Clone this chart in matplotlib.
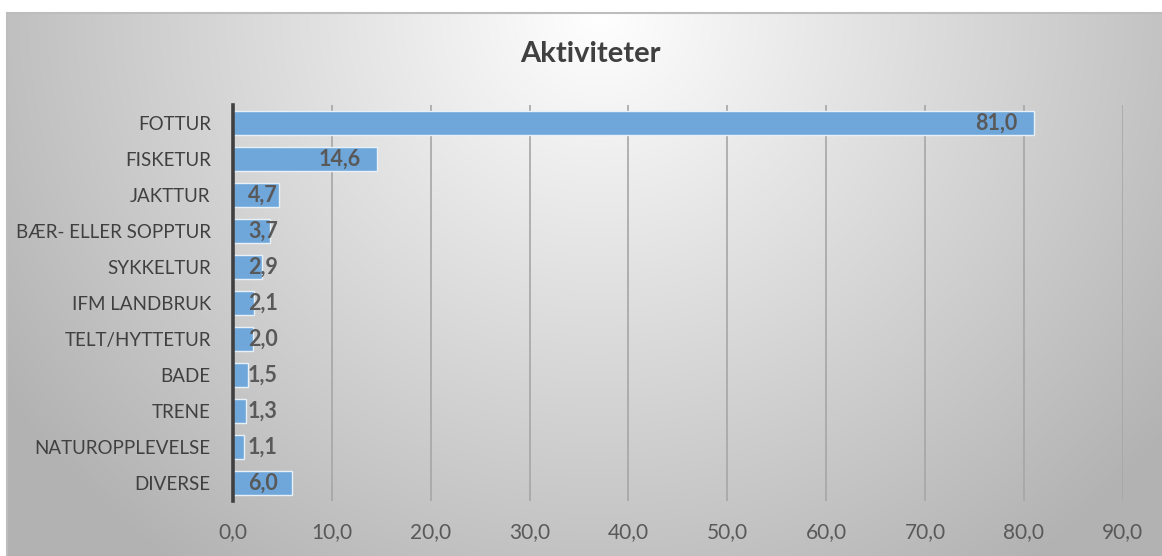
import numpy as np
import matplotlib
matplotlib.use("Agg")
import matplotlib.pyplot as plt
from matplotlib import transforms

categories = ["FOTTUR", "FISKETUR", "JAKTTUR", "BÆR- ELLER SOPPTUR", "SYKKELTUR",
              "IFM LANDBRUK", "TELT/HYTTETUR", "BADE", "TRENE", "NATUROPPLEVELSE", "DIVERSE"]
values = [81.0, 14.6, 4.7, 3.7, 2.9, 2.1, 2.0, 1.5, 1.3, 1.1, 6.0]
xticks = [0, 10, 20, 30, 40, 50, 60, 70, 80, 90]
title = "Aktiviteter"

W, H = 1162, 556
plt.rcParams['font.family'] = ['Lato', 'DejaVu Sans']

fig = plt.figure(figsize=(W / 100, H / 100), dpi=100)
fig.patch.set_facecolor("white")

# background gradient panel
bx0, by_top = 7, 12.5
bg = fig.add_axes([bx0 / W, 0, 1 - bx0 / W, 1 - by_top / H], zorder=-10)
gx = np.linspace(bx0, W, 600)
gy = np.linspace(by_top, H, 300)
XX, YY = np.meshgrid(gx, gy)
d = np.sqrt((XX - 600) ** 2 + ((YY - 15) * 1.05) ** 2)
g = 255 - 64 * np.clip(d / 600, 0, 1.2)
g = np.clip(g, 0, 255) / 255
img = np.dstack([g, g, g])
bg.imshow(img, aspect="auto", extent=[0, 1, 0, 1], origin="upper")
bg.set_axis_off()
fig.add_artist(plt.Line2D([bx0 / W, 1], [1 - by_top / H, 1 - by_top / H],
                          transform=fig.transFigure, color="#bdbdbd", lw=1.5))
fig.add_artist(plt.Line2D([bx0 / W, bx0 / W], [0, 1 - by_top / H],
                          transform=fig.transFigure, color="#bdbdbd", lw=1.5))

left, right, top, bottom = 233, 1122.7, 105, 501
ax = fig.add_axes([left / W, 1 - bottom / H, (right - left) / W, (bottom - top) / H])
ax.set_facecolor("none")

y = np.arange(len(categories))
ax.barh(y, values, height=0.64, color="#6fa7db", edgecolor="#e8f0f8", linewidth=1.0, zorder=3)
ax.set_ylim(len(categories) - 0.5, -0.5)
ax.set_xlim(0, 90)
ax.set_xticks(xticks)
ax.set_xticklabels([f"{v:.1f}".replace(".", ",") for v in xticks])
ax.set_yticks(y)
ax.set_yticklabels(categories)
ax.tick_params(axis="x", length=0, pad=15, labelsize=15, labelcolor="#595959")
ax.tick_params(axis="y", length=0, pad=16, labelsize=13.5, labelcolor="#404040")
ax.grid(axis="x", color="#a6a6a6", lw=1.2, zorder=1)
ax.set_axisbelow(True)
for s in ["top", "right", "bottom"]:
    ax.spines[s].set_visible(False)
ax.spines["left"].set_color("#404040")
ax.spines["left"].set_linewidth(2.6)
ax.spines["left"].set_zorder(5)

for yi, v in zip(y, values):
    lab = f"{v:.1f}".replace(".", ",")
    if v >= 10:
        tr = transforms.offset_copy(ax.transData, fig=fig, x=-16, y=0, units="dots")
        ax.text(v, yi, lab, ha="right", va="center", transform=tr, fontsize=15.5,
                fontweight="bold", color="#595959", zorder=6)
    else:
        tr = transforms.offset_copy(ax.transData, fig=fig, x=15, y=0, units="dots")
        ax.text(0, yi, lab, ha="left", va="center", transform=tr, fontsize=15.5,
                fontweight="bold", color="#595959", zorder=6)

fig.text(590 / W, 1 - 54 / H, title, ha="center", va="center", fontsize=21,
         fontweight="bold", color="#404040")

fig.savefig("out.png", dpi=100)
